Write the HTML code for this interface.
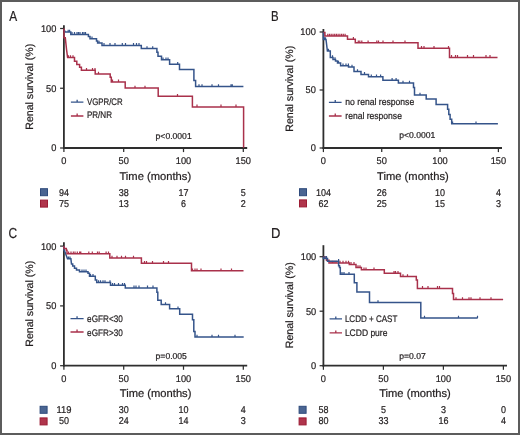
<!DOCTYPE html>
<html><head><meta charset="utf-8"><title>Renal survival</title>
<style>
html,body{margin:0;padding:0;background:#fff;}
body{width:520px;height:435px;overflow:hidden;}
.frame{position:absolute;left:0;top:0;width:516px;height:431px;border:2px solid #5c5c5c;background:#fff;}
svg{position:absolute;left:0;top:0;will-change:transform;}
text{font-family:"Liberation Sans", sans-serif;fill:#231f20;stroke:#231f20;stroke-width:0.22px;text-rendering:geometricPrecision;}
</style></head>
<body>
<div class="frame"></div>
<svg width="520" height="435" viewBox="0 0 520 435">
<line x1="63.9" y1="25.2" x2="63.9" y2="148.9" stroke="#2e2e2e" stroke-width="1.8"/>
<line x1="63.05" y1="148.0" x2="247.2" y2="148.0" stroke="#2e2e2e" stroke-width="1.8"/>
<line x1="60.1" y1="148.00" x2="63.9" y2="148.00" stroke="#2e2e2e" stroke-width="1.25"/>
<line x1="60.1" y1="88.25" x2="63.9" y2="88.25" stroke="#2e2e2e" stroke-width="1.25"/>
<line x1="60.1" y1="28.50" x2="63.9" y2="28.50" stroke="#2e2e2e" stroke-width="1.25"/>
<line x1="63.90" y1="148.0" x2="63.90" y2="152.1" stroke="#2e2e2e" stroke-width="1.25"/>
<line x1="123.70" y1="148.0" x2="123.70" y2="152.1" stroke="#2e2e2e" stroke-width="1.25"/>
<line x1="183.50" y1="148.0" x2="183.50" y2="152.1" stroke="#2e2e2e" stroke-width="1.25"/>
<line x1="243.30" y1="148.0" x2="243.30" y2="152.1" stroke="#2e2e2e" stroke-width="1.25"/>
<line x1="323.4" y1="29.0" x2="323.4" y2="148.9" stroke="#2e2e2e" stroke-width="1.8"/>
<line x1="322.54999999999995" y1="148.0" x2="502.0" y2="148.0" stroke="#2e2e2e" stroke-width="1.8"/>
<line x1="319.59999999999997" y1="148.00" x2="323.4" y2="148.00" stroke="#2e2e2e" stroke-width="1.25"/>
<line x1="319.59999999999997" y1="90.00" x2="323.4" y2="90.00" stroke="#2e2e2e" stroke-width="1.25"/>
<line x1="319.59999999999997" y1="32.00" x2="323.4" y2="32.00" stroke="#2e2e2e" stroke-width="1.25"/>
<line x1="323.40" y1="148.0" x2="323.40" y2="152.1" stroke="#2e2e2e" stroke-width="1.25"/>
<line x1="381.73" y1="148.0" x2="381.73" y2="152.1" stroke="#2e2e2e" stroke-width="1.25"/>
<line x1="440.06" y1="148.0" x2="440.06" y2="152.1" stroke="#2e2e2e" stroke-width="1.25"/>
<line x1="498.39" y1="148.0" x2="498.39" y2="152.1" stroke="#2e2e2e" stroke-width="1.25"/>
<line x1="63.9" y1="242.2" x2="63.9" y2="366.59999999999997" stroke="#2e2e2e" stroke-width="1.8"/>
<line x1="63.05" y1="365.7" x2="247.2" y2="365.7" stroke="#2e2e2e" stroke-width="1.8"/>
<line x1="60.1" y1="365.70" x2="63.9" y2="365.70" stroke="#2e2e2e" stroke-width="1.25"/>
<line x1="60.1" y1="305.90" x2="63.9" y2="305.90" stroke="#2e2e2e" stroke-width="1.25"/>
<line x1="60.1" y1="246.10" x2="63.9" y2="246.10" stroke="#2e2e2e" stroke-width="1.25"/>
<line x1="63.90" y1="365.7" x2="63.90" y2="369.8" stroke="#2e2e2e" stroke-width="1.25"/>
<line x1="123.70" y1="365.7" x2="123.70" y2="369.8" stroke="#2e2e2e" stroke-width="1.25"/>
<line x1="183.50" y1="365.7" x2="183.50" y2="369.8" stroke="#2e2e2e" stroke-width="1.25"/>
<line x1="243.30" y1="365.7" x2="243.30" y2="369.8" stroke="#2e2e2e" stroke-width="1.25"/>
<line x1="323.4" y1="245.2" x2="323.4" y2="366.59999999999997" stroke="#2e2e2e" stroke-width="1.8"/>
<line x1="322.54999999999995" y1="365.7" x2="507.0" y2="365.7" stroke="#2e2e2e" stroke-width="1.8"/>
<line x1="319.59999999999997" y1="365.70" x2="323.4" y2="365.70" stroke="#2e2e2e" stroke-width="1.25"/>
<line x1="319.59999999999997" y1="311.20" x2="323.4" y2="311.20" stroke="#2e2e2e" stroke-width="1.25"/>
<line x1="319.59999999999997" y1="256.70" x2="323.4" y2="256.70" stroke="#2e2e2e" stroke-width="1.25"/>
<line x1="323.40" y1="365.7" x2="323.40" y2="369.8" stroke="#2e2e2e" stroke-width="1.25"/>
<line x1="383.40" y1="365.7" x2="383.40" y2="369.8" stroke="#2e2e2e" stroke-width="1.25"/>
<line x1="443.40" y1="365.7" x2="443.40" y2="369.8" stroke="#2e2e2e" stroke-width="1.25"/>
<line x1="503.40" y1="365.7" x2="503.40" y2="369.8" stroke="#2e2e2e" stroke-width="1.25"/>
<path d="M64,29.8 L65.5,32.1 H70.8 V34.4 H88.4 V36.5 H90 V38.8 H96.5 V40.9 H97.6 V43.1 H102 V45.4 H141.3 V48.6 H156.9 V52.3 H158 V56.3 H161.5 V59.8 H169.6 V64.2 H179.5 V69.6 H193.9 V80.4 H195.6 V86.6 H243.4" fill="none" stroke="#35548a" stroke-width="1.5" stroke-linejoin="miter"/>
<path d="M68.2,32.1 v-2.3 M69.6,32.1 v-2.3 M72,34.4 v-2.3 M74.5,34.4 v-2.3 M77,34.4 v-2.3 M78.5,34.4 v-2.3 M80,34.4 v-2.3 M82.5,34.4 v-2.3 M84,34.4 v-2.3 M85.5,34.4 v-2.3 M92,38.8 v-2.3 M99,43.1 v-2.3 M104,45.4 v-2.3 M110,45.4 v-2.3 M115,45.4 v-2.3 M122.3,45.4 v-2.3 M125.5,45.4 v-2.3 M133.5,45.4 v-2.3 M136.5,45.4 v-2.3 M139,45.4 v-2.3 M147,48.6 v-2.3 M152.7,48.6 v-2.3 M163,59.8 v-2.3 M166,59.8 v-2.3 M168,59.8 v-2.3 M177.7,64.2 v-2.3 M199,86.6 v-2.3 M202,86.6 v-2.3 M212,86.6 v-2.3 M218.5,86.6 v-2.3 M231,86.6 v-2.3 M232.3,86.6 v-2.3" fill="none" stroke="#35548a" stroke-width="1.2"/>
<path d="M64,28.5 V37.8 H65.3 L66.6,50 L67.6,57.5 H74.5 V61.2 H76.8 V64.4 H79.6 V67.2 H81.4 V70.3 H95.2 V74.1 H110.2 V77.3 H111.3 V81.9 H125.2 V88 H158.2 V96.2 H192.4 V106.9 H243.6 V147.8" fill="none" stroke="#a9314b" stroke-width="1.5" stroke-linejoin="miter"/>
<path d="M68.5,57.5 v-2.3 M70.5,57.5 v-2.3 M73,57.5 v-2.3 M86.5,70.3 v-2.3 M92.5,70.3 v-2.3 M95,70.3 v-2.3 M98.5,74.1 v-2.3 M112.5,81.9 v-2.3 M118.5,81.9 v-2.3 M135,88 v-2.3 M145,88 v-2.3 M177.5,96.2 v-2.3 M197,106.9 v-2.3 M221,106.9 v-2.3 M236,106.9 v-2.3" fill="none" stroke="#a9314b" stroke-width="1.2"/>
<path d="M323.4,32 V39.5 H326 L327.4,51 H330.3 V57.5 H333 V59.5 H335.5 V61 H337.5 V63 H340.6 V65.7 H348.5 V67 H354 V71.5 H361 V74.4 H368.5 V76.7 H382.9 V80.2 H398.4 V83.1 H413.5 V87.4 H414.5 V95 H426.2 V99.1 H436.1 V104.5 H447.6 V109.3 H448.8 V114.4 H450.1 V119.2 H451.7 V123.8 H497.9" fill="none" stroke="#35548a" stroke-width="1.5" stroke-linejoin="miter"/>
<path d="M324.5,39.5 v-2.3 M325.5,39.5 v-2.3 M328.5,51 v-2.3 M332.5,57.5 v-2.3 M335,59.5 v-2.3 M338.5,63 v-2.3 M343,65.7 v-2.3 M346,65.7 v-2.3 M348.4,65.7 v-2.3 M352,67 v-2.3 M357.5,71.5 v-2.3 M364.5,74.4 v-2.3 M371.3,76.7 v-2.3 M376.5,76.7 v-2.3 M380.6,76.7 v-2.3 M392.1,80.2 v-2.3 M396.1,80.2 v-2.3 M403,83.1 v-2.3 M409.5,83.1 v-2.3 M420,95 v-2.3 M452.6,123.8 v-2.3 M476,123.8 v-2.3" fill="none" stroke="#35548a" stroke-width="1.2"/>
<path d="M323.4,32.4 H324.9 V36.1 H347.5 V39.3 H355.3 V42.8 H418 V48.3 H449.5 V57.4 H497.5" fill="none" stroke="#a9314b" stroke-width="1.5" stroke-linejoin="miter"/>
<path d="M327.8,36.1 v-2.3 M329.5,36.1 v-2.3 M331.2,36.1 v-2.3 M333,36.1 v-2.3 M334.7,36.1 v-2.3 M336.4,36.1 v-2.3 M338.1,36.1 v-2.3 M339.9,36.1 v-2.3 M341.6,36.1 v-2.3 M343.3,36.1 v-2.3 M345.1,36.1 v-2.3 M353.4,39.3 v-2.3 M358.3,42.8 v-2.3 M359.8,42.8 v-2.3 M361.8,42.8 v-2.3 M368.1,42.8 v-2.3 M376.8,42.8 v-2.3 M378.5,42.8 v-2.3 M383,42.8 v-2.3 M393,42.8 v-2.3 M405,42.8 v-2.3 M421.5,48.3 v-2.3 M424,48.3 v-2.3 M434,48.3 v-2.3 M448.5,48.3 v-2.3 M451.5,57.4 v-2.3 M455.5,57.4 v-2.3 M457.5,57.4 v-2.3 M467.5,57.4 v-2.3 M473.5,57.4 v-2.3 M486,57.4 v-2.3 M490,57.4 v-2.3" fill="none" stroke="#a9314b" stroke-width="1.2"/>
<path d="M64,246.1 V250.2 L65,252 L67.5,258.8 H70.9 L71.5,264 H72.7 V266 H74.5 V268.3 H76.5 V270 H79.5 V271.7 H88 V273.2 H89.5 V276.3 H95.3 V280 H96.7 V282.5 H110.5 V285.2 H125.3 V287.9 H156.9 V292.2 H157.8 V300.3 H161.2 V304.6 H169.6 V308.7 H179.7 V314.2 H192.5 V319.7 H193.8 V331.6 H195 V337 H243.7" fill="none" stroke="#35548a" stroke-width="1.5" stroke-linejoin="miter"/>
<path d="M68.5,258.8 v-2.3 M70,258.8 v-2.3 M82,271.7 v-2.3 M84,271.7 v-2.3 M86,271.7 v-2.3 M90.5,276.3 v-2.3 M93,276.3 v-2.3 M98.5,282.5 v-2.3 M100.5,282.5 v-2.3 M103,282.5 v-2.3 M105,282.5 v-2.3 M110,282.5 v-2.3 M112.5,285.2 v-2.3 M114.5,285.2 v-2.3 M118.5,285.2 v-2.3 M122.5,285.2 v-2.3 M124.5,285.2 v-2.3 M134,287.9 v-2.3 M136,287.9 v-2.3 M139,287.9 v-2.3 M147.5,287.9 v-2.3 M153,287.9 v-2.3 M165.5,304.6 v-2.3 M178,308.7 v-2.3 M197,337 v-2.3 M212,337 v-2.3 M218.5,337 v-2.3 M235,337 v-2.3" fill="none" stroke="#35548a" stroke-width="1.2"/>
<path d="M64,246.1 V248.5 H66.3 V250.2 H67 V253.7 H109.8 V258 H141.4 V263.3 H191.5 V270.8 H243.5" fill="none" stroke="#a9314b" stroke-width="1.5" stroke-linejoin="miter"/>
<path d="M68.6,253.7 v-2.3 M71,253.7 v-2.3 M73.3,253.7 v-2.3 M75,253.7 v-2.3 M77.3,253.7 v-2.3 M79.6,253.7 v-2.3 M80.8,253.7 v-2.3 M88.8,253.7 v-2.3 M92.3,253.7 v-2.3 M97.5,253.7 v-2.3 M99.2,253.7 v-2.3 M106.1,253.7 v-2.3 M108.5,253.7 v-2.3 M112,258 v-2.3 M117,258 v-2.3 M121.5,258 v-2.3 M125.5,258 v-2.3 M133.5,258 v-2.3 M144.5,263.3 v-2.3 M146.5,263.3 v-2.3 M152.5,263.3 v-2.3 M163.5,263.3 v-2.3 M168.5,263.3 v-2.3 M192.5,270.8 v-2.3 M195,270.8 v-2.3 M197,270.8 v-2.3 M201,270.8 v-2.3 M221,270.8 v-2.3 M231.5,270.8 v-2.3" fill="none" stroke="#a9314b" stroke-width="1.2"/>
<path d="M323.4,256.7 H324 V258.3 H326.5 V260.3 H329 V263 H349.3 V264.4 H356 V267.5 H361.4 V269.8 H384.3 V273.2 H400.5 V276.5 H416.3 V279.9 H417.4 V288.4 H452.5 V293.5 H453.5 V299.5 H503.1" fill="none" stroke="#a9314b" stroke-width="1.5" stroke-linejoin="miter"/>
<path d="M325,258.3 v-2.3 M331,263 v-2.3 M332.5,263 v-2.3 M334,263 v-2.3 M336,263 v-2.3 M340,263 v-2.3 M343,263 v-2.3 M346,263 v-2.3 M348.5,263 v-2.3 M351,264.4 v-2.3 M354,264.4 v-2.3 M358,267.5 v-2.3 M360,267.5 v-2.3 M364,269.8 v-2.3 M366,269.8 v-2.3 M374,269.8 v-2.3 M394,273.2 v-2.3 M395.5,273.2 v-2.3 M398,273.2 v-2.3 M403,276.5 v-2.3 M407.5,276.5 v-2.3 M422.5,288.4 v-2.3 M428,288.4 v-2.3 M437.5,288.4 v-2.3 M439.5,288.4 v-2.3 M456,299.5 v-2.3 M462.5,299.5 v-2.3 M469,299.5 v-2.3 M471,299.5 v-2.3 M480,299.5 v-2.3 M491,299.5 v-2.3" fill="none" stroke="#a9314b" stroke-width="1.2"/>
<path d="M323.4,256.7 V258.4 H327.5 V261.3 H338.6 V265.8 H339.5 V267.5 H340.3 V274.2 H354.3 V282.7 H356.9 V292.1 H369.5 V302.5 H420.8 V318 H477.7" fill="none" stroke="#35548a" stroke-width="1.5" stroke-linejoin="miter"/>
<path d="M325,258.4 v-2.3 M326.5,258.4 v-2.3 M338.6,261.3 v-2.3 M342,274.2 v-2.3 M344,274.2 v-2.3 M349,274.2 v-2.3 M378,302.5 v-2.3 M424.5,318 v-2.3 M458.5,318 v-2.3 M477.5,318 v-2.3" fill="none" stroke="#35548a" stroke-width="1.2"/>
<path d="M70.9,102.1 H83.4 M77.15,102.1 v-2.4" fill="none" stroke="#35548a" stroke-width="1.3"/>
<path d="M70.9,116.0 H83.4 M77.15,116.0 v-2.4" fill="none" stroke="#a9314b" stroke-width="1.3"/>
<text x="86.9" y="105.4" font-size="9.5" text-anchor="start" textLength="35.800000000000004" lengthAdjust="spacingAndGlyphs">VGPR/CR</text>
<text x="86.9" y="118.4" font-size="9.5" text-anchor="start" textLength="25.099999999999998" lengthAdjust="spacingAndGlyphs">PR/NR</text>
<path d="M328.9,102.3 H341.6 M335.25,102.3 v-2.4" fill="none" stroke="#35548a" stroke-width="1.3"/>
<path d="M328.9,116.0 H341.6 M335.25,116.0 v-2.4" fill="none" stroke="#a9314b" stroke-width="1.3"/>
<text x="345.3" y="105.1" font-size="9.5" text-anchor="start" textLength="68.9" lengthAdjust="spacingAndGlyphs">no renal response</text>
<text x="345.3" y="118.7" font-size="9.5" text-anchor="start" textLength="56.6" lengthAdjust="spacingAndGlyphs">renal response</text>
<path d="M70.5,318.6 H83.6 M77.05,318.6 v-2.4" fill="none" stroke="#35548a" stroke-width="1.3"/>
<path d="M70.5,332.0 H83.6 M77.05,332.0 v-2.4" fill="none" stroke="#a9314b" stroke-width="1.3"/>
<text x="87.1" y="322.1" font-size="9.5" text-anchor="start" textLength="35.7" lengthAdjust="spacingAndGlyphs">eGFR&lt;30</text>
<text x="87.1" y="335.5" font-size="9.5" text-anchor="start" textLength="35.7" lengthAdjust="spacingAndGlyphs">eGFR&gt;30</text>
<path d="M329.6,318.9 H342.0 M335.8,318.9 v-2.4" fill="none" stroke="#35548a" stroke-width="1.3"/>
<path d="M329.6,332.9 H342.0 M335.8,332.9 v-2.4" fill="none" stroke="#a9314b" stroke-width="1.3"/>
<text x="344.9" y="321.8" font-size="9.5" text-anchor="start" textLength="52.5" lengthAdjust="spacingAndGlyphs">LCDD + CAST</text>
<text x="344.9" y="335.6" font-size="9.5" text-anchor="start" textLength="42.5" lengthAdjust="spacingAndGlyphs">LCDD pure</text>
<text x="155.6" y="138.5" font-size="8.6" text-anchor="start" >p&lt;0.0001</text>
<text x="399.2" y="138.4" font-size="8.6" text-anchor="start" >p&lt;0.0001</text>
<text x="155.6" y="358.7" font-size="8.6" text-anchor="start" >p=0.005</text>
<text x="399.2" y="358.8" font-size="8.6" text-anchor="start" >p=0.07</text>
<text x="56.4" y="151.40" font-size="9.8" text-anchor="end" textLength="5.15" lengthAdjust="spacingAndGlyphs">0</text>
<text x="56.4" y="91.65" font-size="9.8" text-anchor="end" textLength="10.3" lengthAdjust="spacingAndGlyphs">50</text>
<text x="56.4" y="31.90" font-size="9.8" text-anchor="end" textLength="15.450000000000001" lengthAdjust="spacingAndGlyphs">100</text>
<text x="63.90" y="164.10" font-size="9.8" text-anchor="middle" textLength="5.15" lengthAdjust="spacingAndGlyphs">0</text>
<text x="123.70" y="164.10" font-size="9.8" text-anchor="middle" textLength="10.3" lengthAdjust="spacingAndGlyphs">50</text>
<text x="183.50" y="164.10" font-size="9.8" text-anchor="middle" textLength="15.450000000000001" lengthAdjust="spacingAndGlyphs">100</text>
<text x="243.30" y="164.10" font-size="9.8" text-anchor="middle" textLength="15.450000000000001" lengthAdjust="spacingAndGlyphs">150</text>
<text x="315.8" y="151.40" font-size="9.8" text-anchor="end" textLength="5.15" lengthAdjust="spacingAndGlyphs">0</text>
<text x="315.8" y="93.40" font-size="9.8" text-anchor="end" textLength="10.3" lengthAdjust="spacingAndGlyphs">50</text>
<text x="315.8" y="35.40" font-size="9.8" text-anchor="end" textLength="15.450000000000001" lengthAdjust="spacingAndGlyphs">100</text>
<text x="323.40" y="164.10" font-size="9.8" text-anchor="middle" textLength="5.15" lengthAdjust="spacingAndGlyphs">0</text>
<text x="381.73" y="164.10" font-size="9.8" text-anchor="middle" textLength="10.3" lengthAdjust="spacingAndGlyphs">50</text>
<text x="440.06" y="164.10" font-size="9.8" text-anchor="middle" textLength="15.450000000000001" lengthAdjust="spacingAndGlyphs">100</text>
<text x="498.39" y="164.10" font-size="9.8" text-anchor="middle" textLength="15.450000000000001" lengthAdjust="spacingAndGlyphs">150</text>
<text x="56.4" y="369.10" font-size="9.8" text-anchor="end" textLength="5.15" lengthAdjust="spacingAndGlyphs">0</text>
<text x="56.4" y="309.30" font-size="9.8" text-anchor="end" textLength="10.3" lengthAdjust="spacingAndGlyphs">50</text>
<text x="56.4" y="249.50" font-size="9.8" text-anchor="end" textLength="15.450000000000001" lengthAdjust="spacingAndGlyphs">100</text>
<text x="63.90" y="381.80" font-size="9.8" text-anchor="middle" textLength="5.15" lengthAdjust="spacingAndGlyphs">0</text>
<text x="123.70" y="381.80" font-size="9.8" text-anchor="middle" textLength="10.3" lengthAdjust="spacingAndGlyphs">50</text>
<text x="183.50" y="381.80" font-size="9.8" text-anchor="middle" textLength="15.450000000000001" lengthAdjust="spacingAndGlyphs">100</text>
<text x="243.30" y="381.80" font-size="9.8" text-anchor="middle" textLength="15.450000000000001" lengthAdjust="spacingAndGlyphs">150</text>
<text x="316.2" y="369.10" font-size="9.8" text-anchor="end" textLength="5.15" lengthAdjust="spacingAndGlyphs">0</text>
<text x="316.2" y="314.60" font-size="9.8" text-anchor="end" textLength="10.3" lengthAdjust="spacingAndGlyphs">50</text>
<text x="316.2" y="260.10" font-size="9.8" text-anchor="end" textLength="15.450000000000001" lengthAdjust="spacingAndGlyphs">100</text>
<text x="323.40" y="381.80" font-size="9.8" text-anchor="middle" textLength="5.15" lengthAdjust="spacingAndGlyphs">0</text>
<text x="383.40" y="381.80" font-size="9.8" text-anchor="middle" textLength="10.3" lengthAdjust="spacingAndGlyphs">50</text>
<text x="443.40" y="381.80" font-size="9.8" text-anchor="middle" textLength="15.450000000000001" lengthAdjust="spacingAndGlyphs">100</text>
<text x="503.40" y="381.80" font-size="9.8" text-anchor="middle" textLength="15.450000000000001" lengthAdjust="spacingAndGlyphs">150</text>
<text x="155.3" y="179.8" font-size="11.2" text-anchor="middle" >Time (months)</text>
<text x="412.9" y="179.6" font-size="11.2" text-anchor="middle" >Time (months)</text>
<text x="155.6" y="397.1" font-size="11.2" text-anchor="middle" >Time (months)</text>
<text x="415.0" y="397.1" font-size="11.2" text-anchor="middle" >Time (months)</text>
<text x="0" y="0" font-size="10.6" text-anchor="middle" transform="translate(33.0,86.8) rotate(-90)">Renal survival (%)</text>
<text x="0" y="0" font-size="10.6" text-anchor="middle" transform="translate(293.0,88.8) rotate(-90)">Renal survival (%)</text>
<text x="0" y="0" font-size="10.6" text-anchor="middle" transform="translate(33.0,303.8) rotate(-90)">Renal survival (%)</text>
<text x="0" y="0" font-size="10.6" text-anchor="middle" transform="translate(293.0,305.2) rotate(-90)">Renal survival (%)</text>
<text x="9.3" y="20.8" font-size="14.4" text-anchor="start" textLength="7.9" lengthAdjust="spacingAndGlyphs">A</text>
<text x="270.9" y="20.8" font-size="14.4" text-anchor="start" textLength="7.6" lengthAdjust="spacingAndGlyphs">B</text>
<text x="8.6" y="237.9" font-size="14.4" text-anchor="start" textLength="8.6" lengthAdjust="spacingAndGlyphs">C</text>
<text x="270.9" y="237.9" font-size="14.4" text-anchor="start" textLength="9.4" lengthAdjust="spacingAndGlyphs">D</text>
<rect x="40.5" y="188.7" width="7" height="7" fill="#4a6592" stroke="#2f4b7c" stroke-width="1"/>
<rect x="40.5" y="200.1" width="7" height="7" fill="#b0354c" stroke="#9c1c34" stroke-width="1"/>
<text x="63.90" y="196.0" font-size="9.9" text-anchor="middle" textLength="10.0" lengthAdjust="spacingAndGlyphs">94</text>
<text x="63.90" y="206.6" font-size="9.9" text-anchor="middle" textLength="10.0" lengthAdjust="spacingAndGlyphs">75</text>
<text x="123.70" y="196.0" font-size="9.9" text-anchor="middle" textLength="10.0" lengthAdjust="spacingAndGlyphs">38</text>
<text x="123.70" y="206.6" font-size="9.9" text-anchor="middle" textLength="10.0" lengthAdjust="spacingAndGlyphs">13</text>
<text x="183.50" y="196.0" font-size="9.9" text-anchor="middle" textLength="10.0" lengthAdjust="spacingAndGlyphs">17</text>
<text x="183.50" y="206.6" font-size="9.9" text-anchor="middle" textLength="5.0" lengthAdjust="spacingAndGlyphs">6</text>
<text x="243.30" y="196.0" font-size="9.9" text-anchor="middle" textLength="5.0" lengthAdjust="spacingAndGlyphs">5</text>
<text x="243.30" y="206.6" font-size="9.9" text-anchor="middle" textLength="5.0" lengthAdjust="spacingAndGlyphs">2</text>
<rect x="299.5" y="188.7" width="7" height="7" fill="#4a6592" stroke="#2f4b7c" stroke-width="1"/>
<rect x="299.5" y="199.9" width="7" height="7" fill="#b0354c" stroke="#9c1c34" stroke-width="1"/>
<text x="323.40" y="196.0" font-size="9.9" text-anchor="middle" textLength="15.0" lengthAdjust="spacingAndGlyphs">104</text>
<text x="323.40" y="206.6" font-size="9.9" text-anchor="middle" textLength="10.0" lengthAdjust="spacingAndGlyphs">62</text>
<text x="381.73" y="196.0" font-size="9.9" text-anchor="middle" textLength="10.0" lengthAdjust="spacingAndGlyphs">26</text>
<text x="381.73" y="206.6" font-size="9.9" text-anchor="middle" textLength="10.0" lengthAdjust="spacingAndGlyphs">25</text>
<text x="440.06" y="196.0" font-size="9.9" text-anchor="middle" textLength="10.0" lengthAdjust="spacingAndGlyphs">10</text>
<text x="440.06" y="206.6" font-size="9.9" text-anchor="middle" textLength="10.0" lengthAdjust="spacingAndGlyphs">15</text>
<text x="498.39" y="196.0" font-size="9.9" text-anchor="middle" textLength="5.0" lengthAdjust="spacingAndGlyphs">4</text>
<text x="498.39" y="206.6" font-size="9.9" text-anchor="middle" textLength="5.0" lengthAdjust="spacingAndGlyphs">3</text>
<rect x="40.1" y="406.3" width="7" height="7" fill="#4a6592" stroke="#2f4b7c" stroke-width="1"/>
<rect x="40.1" y="417.9" width="7" height="7" fill="#b0354c" stroke="#9c1c34" stroke-width="1"/>
<text x="63.90" y="412.8" font-size="9.9" text-anchor="middle" textLength="15.0" lengthAdjust="spacingAndGlyphs">119</text>
<text x="63.90" y="423.9" font-size="9.9" text-anchor="middle" textLength="10.0" lengthAdjust="spacingAndGlyphs">50</text>
<text x="123.70" y="412.8" font-size="9.9" text-anchor="middle" textLength="10.0" lengthAdjust="spacingAndGlyphs">30</text>
<text x="123.70" y="423.9" font-size="9.9" text-anchor="middle" textLength="10.0" lengthAdjust="spacingAndGlyphs">24</text>
<text x="183.50" y="412.8" font-size="9.9" text-anchor="middle" textLength="10.0" lengthAdjust="spacingAndGlyphs">10</text>
<text x="183.50" y="423.9" font-size="9.9" text-anchor="middle" textLength="10.0" lengthAdjust="spacingAndGlyphs">14</text>
<text x="243.30" y="412.8" font-size="9.9" text-anchor="middle" textLength="5.0" lengthAdjust="spacingAndGlyphs">4</text>
<text x="243.30" y="423.9" font-size="9.9" text-anchor="middle" textLength="5.0" lengthAdjust="spacingAndGlyphs">3</text>
<rect x="299.1" y="406.3" width="7" height="7" fill="#4a6592" stroke="#2f4b7c" stroke-width="1"/>
<rect x="299.1" y="417.9" width="7" height="7" fill="#b0354c" stroke="#9c1c34" stroke-width="1"/>
<text x="323.40" y="412.8" font-size="9.9" text-anchor="middle" textLength="10.0" lengthAdjust="spacingAndGlyphs">58</text>
<text x="323.40" y="423.9" font-size="9.9" text-anchor="middle" textLength="10.0" lengthAdjust="spacingAndGlyphs">80</text>
<text x="383.40" y="412.8" font-size="9.9" text-anchor="middle" textLength="5.0" lengthAdjust="spacingAndGlyphs">5</text>
<text x="383.40" y="423.9" font-size="9.9" text-anchor="middle" textLength="10.0" lengthAdjust="spacingAndGlyphs">33</text>
<text x="443.40" y="412.8" font-size="9.9" text-anchor="middle" textLength="5.0" lengthAdjust="spacingAndGlyphs">3</text>
<text x="443.40" y="423.9" font-size="9.9" text-anchor="middle" textLength="10.0" lengthAdjust="spacingAndGlyphs">16</text>
<text x="503.40" y="412.8" font-size="9.9" text-anchor="middle" textLength="5.0" lengthAdjust="spacingAndGlyphs">0</text>
<text x="503.40" y="423.9" font-size="9.9" text-anchor="middle" textLength="5.0" lengthAdjust="spacingAndGlyphs">4</text>
</svg>
</body></html>
